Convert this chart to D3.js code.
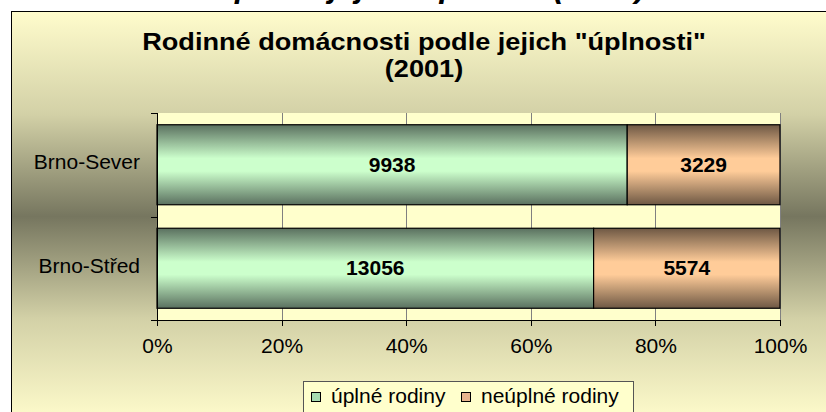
<!DOCTYPE html>
<html lang="cs">
<head>
<meta charset="UTF-8">
<title>Rodinné domácnosti podle jejich úplnosti</title>
<script src="https://d3js.org/d3.v7.min.js"></script>
<style>
    body { margin: 0; padding: 0; background: #ffffff; }
    svg { display: block; font-family: "Liberation Sans", Arial, sans-serif; }
    .axis path, .axis line { shape-rendering: crispEdges; }
</style>
</head>
<body>
<svg id="chart"></svg>
<script>
    // data
    const categories = ["Brno-Sever", "Brno-Střed"];
    const seriesNames = ["úplné rodiny", "neúplné rodiny"];
    const uplne = [9938, 13056];
    const neuplne = [3229, 5574];
    const xTicks = [0, 0.2, 0.4, 0.6, 0.8, 1];

    const width = 826, height = 412;
    const plot = { left: 157, right: 780, top: 113, bottom: 320 };

    const svg = d3.select("#chart").attr("width", width).attr("height", height);
    const defs = svg.append("defs");

    // chart area background: light at edges, dark olive in the middle
    const bg = defs.append("linearGradient").attr("id", "bgGrad")
        .attr("x1", 0).attr("y1", 0).attr("x2", 0).attr("y2", 1);
    [[0, "#fffccc"], [0.25, "#d3d1a7"], [0.5, "#76765f"], [0.75, "#d3d1a7"], [1, "#fffccc"]].forEach(s =>
        bg.append("stop").attr("offset", s[0]).attr("stop-color", s[1]));

    function barGradient(id, edge, mid) {
        const g = defs.append("linearGradient").attr("id", id)
            .attr("x1", 0).attr("y1", 0).attr("x2", 0).attr("y2", 1);
        [[0, edge], [0.42, mid], [0.58, mid], [1, edge]].forEach(s =>
            g.append("stop").attr("offset", s[0]).attr("stop-color", s[1]));
    }
    barGradient("gGreen", "#5a705f", "#ccffcc");
    barGradient("gOrange", "#6e5844", "#ffcc99");
    const fills = ["url(#gGreen)", "url(#gOrange)"];
    const swatch = ["#a6dcb0", "#e8b48e"];

    // page heading cut off at the top
    svg.append("text")
        .attr("x", 43).attr("y", -3)
        .style("font-size", "32px").style("font-weight", "bold").style("font-style", "italic")
        .text("Domácnosti podle jejich úplnosti (2001)");

    // chart area
    svg.append("rect")
        .attr("x", 11.5).attr("y", 11.5).attr("width", 830).attr("height", 410)
        .attr("fill", "url(#bgGrad)").attr("stroke", "#000").attr("stroke-width", 1);

    svg.append("g")
        .attr("transform", "translate(424,0) scale(1.18,1)")
        .append("text")
        .attr("y", 50)
        .attr("text-anchor", "middle")
        .style("font-size", "23px").style("font-weight", "bold")
        .selectAll("tspan")
        .data(['Rodinné domácnosti podle jejich "úplnosti"', "(2001)"])
        .join("tspan")
        .attr("x", 0)
        .attr("dy", (d, i) => i ? 27 : 0)
        .text(d => d);

    const x = d3.scaleLinear().domain([0, 1]).range([plot.left, plot.right]);
    const y = d3.scaleBand().domain(categories)
        .range([plot.top, plot.bottom])
        .paddingInner(0.227).paddingOuter(0.1135);

    // plot area
    svg.append("rect")
        .attr("x", plot.left).attr("y", plot.top)
        .attr("width", plot.right - plot.left).attr("height", plot.bottom - plot.top)
        .attr("fill", "#ffffcc");

    svg.append("g")
        .selectAll("line")
        .data(xTicks.slice(1))
        .join("line")
        .attr("x1", d => Math.round(x(d)) + 0.5).attr("x2", d => Math.round(x(d)) + 0.5)
        .attr("y1", plot.top).attr("y2", plot.bottom)
        .attr("stroke", "#808080");

    const table = categories.map((c, i) => ({ cat: c, a: uplne[i], b: neuplne[i] }));
    const stacked = d3.stack().keys(["a", "b"]).offset(d3.stackOffsetExpand)(table);

    const layers = svg.append("g").selectAll("g")
        .data(stacked)
        .join("g")
        .attr("fill", (d, i) => fills[i]);

    layers.selectAll("rect")
        .data(d => d)
        .join("rect")
        .attr("x", d => x(d[0]))
        .attr("y", d => y(d.data.cat))
        .attr("width", d => x(d[1]) - x(d[0]))
        .attr("height", y.bandwidth())
        .attr("stroke", "#000").attr("stroke-width", 1.2);

    layers.selectAll("text")
        .data(d => d.map(v => ({ v, key: d.key })))
        .join("text")
        .attr("x", d => (x(d.v[0]) + x(d.v[1])) / 2)
        .attr("y", d => y(d.v.data.cat) + y.bandwidth() / 2 + 7)
        .attr("text-anchor", "middle")
        .attr("fill", "#000")
        .style("font-size", "21px").style("font-weight", "bold")
        .text(d => d.v.data[d.key]);

    // axes
    const xAxis = svg.append("g").attr("class", "axis")
        .attr("transform", `translate(0,${plot.bottom})`)
        .call(d3.axisBottom(x).tickValues(xTicks).tickFormat(d3.format(".0%")).tickSize(6).tickPadding(12));
    xAxis.select(".domain").attr("stroke", "#000");
    xAxis.selectAll("text").style("font-size", "21px").style("font-family", "inherit").attr("fill", "#000");

    const yAxis = svg.append("g").attr("class", "axis")
        .attr("transform", `translate(${plot.left},0)`)
        .call(d3.axisLeft(y).tickSize(0).tickPadding(17));
    yAxis.select(".domain").remove();
    yAxis.selectAll("text").style("font-size", "21px").style("font-family", "inherit")
        .attr("fill", "#000").attr("dy", "0.22em");
    // category boundary ticks
    const bounds = [plot.top, (y(categories[0]) + y.bandwidth() + y(categories[1])) / 2, plot.bottom];
    yAxis.selectAll(".bound")
        .data(bounds)
        .join("line")
        .attr("class", "bound")
        .attr("x1", -6).attr("x2", 0)
        .attr("y1", d => Math.round(d) + 0.5).attr("y2", d => Math.round(d) + 0.5)
        .attr("stroke", "#000");
    yAxis.append("line")
        .attr("x1", 0.5).attr("x2", 0.5)
        .attr("y1", plot.top).attr("y2", plot.bottom)
        .attr("stroke", "#000");

    // legend
    const legend = svg.append("g").attr("transform", "translate(303,381)");
    legend.append("rect")
        .attr("x", 0.5).attr("y", 0.5).attr("width", 330).attr("height", 36)
        .attr("fill", "#ffffcc").attr("stroke", "#555");
    const items = legend.selectAll(".item")
        .data(seriesNames)
        .join("g")
        .attr("class", "item")
        .attr("transform", (d, i) => `translate(${i ? 158 : 8},0)`);
    items.append("rect")
        .attr("x", 0.5).attr("y", 11.5).attr("width", 9).attr("height", 9)
        .attr("fill", (d, i) => swatch[i]).attr("stroke", "#000");
    items.append("text")
        .attr("x", 20).attr("y", 22)
        .style("font-size", "21px")
        .text(d => d);
</script>
</body>
</html>
